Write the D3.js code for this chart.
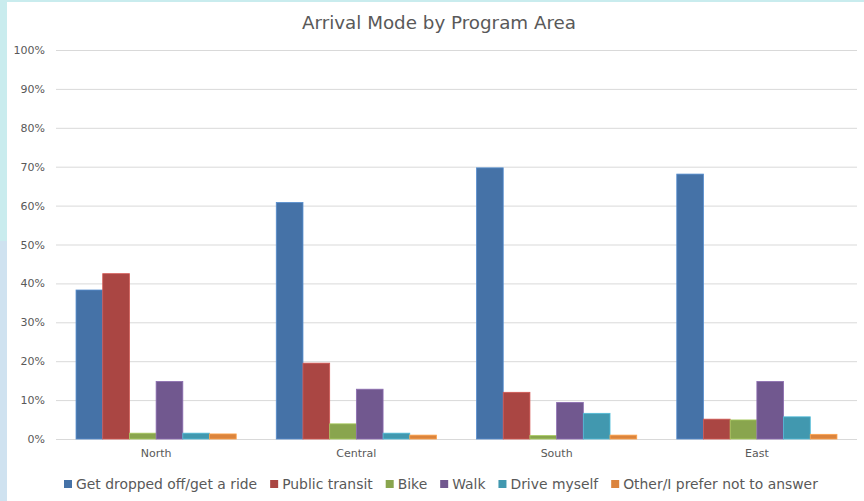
<!DOCTYPE html>
<html lang="en">
<head>
  <meta charset="UTF-8">
  <title>Arrival Mode by Program Area</title>
  <script src="https://cdn.jsdelivr.net/npm/d3@7"></script>
  <style>
    body { margin: 0; background: #fff; }
    svg { display: block; }
    text { font-family: "DejaVu Sans", sans-serif; fill: #595959; }
  </style>
</head>
<body>
  <svg width="864" height="501"></svg>
  <script>
    // data
    var areas = ["North", "Central", "South", "East"];
    var modes = ["Get dropped off/get a ride", "Public transit", "Bike", "Walk", "Drive myself", "Other/I prefer not to answer"];
    var dropped = [0.383, 0.608, 0.697, 0.681];
    var transit = [0.425, 0.195, 0.120, 0.051];
    var bike = [0.015, 0.039, 0.009, 0.049];
    var walk = [0.148, 0.128, 0.094, 0.148];
    var drive = [0.015, 0.015, 0.066, 0.057];
    var other = [0.013, 0.010, 0.010, 0.012];
    var yTicks = [0, 0.1, 0.2, 0.3, 0.4, 0.5, 0.6, 0.7, 0.8, 0.9, 1.0];
    var colors = ["#4572A7", "#AA4643", "#89A54E", "#71588F", "#4198AF", "#DB843D"];

    var series = [dropped, transit, bike, walk, drive, other];
    var rows = areas.map(function (a, i) {
      return { area: a, vals: series.map(function (s) { return s[i]; }) };
    });

    var svg = d3.select("svg");
    var margin = { left: 56, right: 7, top: 50, bottom: 62 };
    var width = 864, height = 501;

    // frame strips on the left and top
    svg.append("rect").attr("x", 0).attr("y", 0).attr("width", 7).attr("height", 241).attr("fill", "#c9ecee");
    svg.append("rect").attr("x", 0).attr("y", 241).attr("width", 7).attr("height", 260).attr("fill", "#cfe2f0");
    svg.append("rect").attr("x", 0).attr("y", 0).attr("width", width).attr("height", 2).attr("fill", "#c9ecee");

    var x0 = d3.scaleBand().domain(areas).range([margin.left, width - margin.right]).paddingInner(0.2).paddingOuter(0.1);
    var x1 = d3.scaleBand().domain(d3.range(modes.length)).range([0, x0.bandwidth()]);
    var y = d3.scaleLinear().domain([0, 1]).range([height - margin.bottom, margin.top]);

    // gridlines + y axis
    var yAxis = svg.append("g")
      .attr("transform", "translate(" + margin.left + ",0)")
      .call(d3.axisLeft(y).tickValues(yTicks).tickFormat(d3.format(".0%"))
        .tickSize(-(width - margin.right - margin.left)).tickPadding(11));
    yAxis.select(".domain").remove();
    yAxis.selectAll("line").attr("stroke", "#d9d9d9").attr("stroke-width", 1);
    yAxis.selectAll("text").style("font-size", "11px").attr("fill", "#595959");

    // x axis labels
    var xAxis = svg.append("g")
      .attr("transform", "translate(0," + y(0) + ")")
      .call(d3.axisBottom(x0).tickSize(0).tickPadding(10));
    xAxis.select(".domain").remove();
    xAxis.selectAll("text").style("font-size", "11px").attr("fill", "#595959");

    // bars
    var groups = svg.append("g").selectAll("g")
      .data(rows).enter().append("g")
      .attr("transform", function (d) { return "translate(" + x0(d.area) + ",0)"; });
    groups.selectAll("rect")
      .data(function (d) { return d.vals.map(function (v, i) { return { i: i, v: v }; }); })
      .enter().append("rect")
      .attr("x", function (d) { return x1(d.i); })
      .attr("width", x1.bandwidth())
      .attr("y", function (d) { return y(d.v); })
      .attr("height", function (d) { return y(0) - y(d.v); })
      .attr("fill", function (d) { return colors[d.i]; })
      .attr("stroke", function (d) { return d3.color(colors[d.i]).brighter(0.6); })
      .attr("stroke-width", 0.8);

    // title
    svg.append("text")
      .attr("x", 439).attr("y", 29)
      .attr("text-anchor", "middle")
      .style("font-size", "18.3px")
      .text("Arrival Mode by Program Area");

    // legend
    var legend = svg.append("g");
    var lx = 64;
    modes.forEach(function (m, i) {
      legend.append("rect").attr("x", lx).attr("y", 480).attr("width", 8).attr("height", 8).attr("fill", colors[i]);
      var t = legend.append("text").attr("x", lx + 12).attr("y", 489).style("font-size", "13.9px").text(m);
      lx += 12 + t.node().getComputedTextLength() + 13;
    });
  </script>
</body>
</html>
